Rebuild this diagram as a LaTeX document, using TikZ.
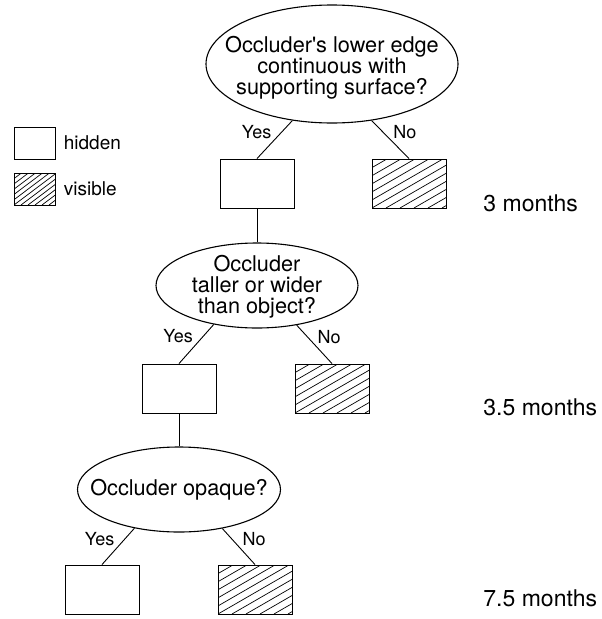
\documentclass[tikz,border=0pt]{standalone}
\usepackage{fontspec}
\setmainfont{TeX Gyre Heros}
\usetikzlibrary{positioning,shapes.geometric}

\begin{document}
\begin{tikzpicture}[%
    x=1pt,
    y=1pt,
    line width=0.9pt,
    node distance=35pt,
    qtext/.style={%
      align=center,
      inner sep=0pt,
      font=\fontsize{21.7}{21}\selectfont
    },
    question/.style 2 args={%
      ellipse,
      draw,
      line width=1.1pt,
      inner sep=0pt,
      minimum width=#1,
      minimum height=#2
    },
    answer/.style={%
      draw,
      inner sep=0pt,
      minimum width=74pt,
      minimum height=49pt
    },
    hatch/.style 2 args={%
      path picture={%
        \foreach \k in {-14,...,14}
          \draw[line width=0.7pt]
            ([xshift=\k*#1]path picture bounding box.south west) -- ++(#2:160pt);
      }
    },
    lbl/.style={inner sep=0pt, font=\fontsize{18}{20}\selectfont},
    keytext/.style={inner sep=0pt, font=\fontsize{19}{22}\selectfont},
    month/.style={inner sep=0pt, anchor=west, font=\fontsize{23}{26}\selectfont}
  ]
    \useasboundingbox (0,0) rectangle (602,-619);

    % legend
    \node[answer, minimum width=41pt, minimum height=32pt] (keyh) at (34.5,-143) {};
    \node[keytext] (keyhtext) [right=8pt of keyh] {hidden};
    \node[answer, hatch={7pt}{37}, minimum width=41pt, minimum height=32pt] (keyv) at (34.5,-189) {};
    \node[keytext] (keyvtext) [right=8pt of keyv] {visible};

    % questions and answers
    \node[question={252pt}{118pt},
          label={[qtext, yshift=-4pt]center:{Occluder\textquotesingle s lower edge\\continuous with\\supporting surface?}}]
          (q1) at (332,-64) {};
    \node[answer] (y1) [below=35pt of q1, xshift=-75pt] {};
    \node[answer, hatch={14pt}{30}] (n1) [below=35pt of q1, xshift=77pt] {};

    \node[question={202pt}{85pt},
          label={[qtext, yshift=-1pt]center:{Occluder\\taller or wider\\than object?}}]
          (q2) [below=34pt of y1] {};
    \node[answer] (y2) [below=35pt of q2, xshift=-78pt] {};
    \node[answer, hatch={14pt}{30}] (n2) [below=35pt of q2, xshift=75pt] {};

    \node[question={203pt}{85pt},
          label={[qtext]center:{Occluder opaque?}}]
          (q3) [below=33pt of y2] {};
    \node[answer] (y3) [below=32pt of q3, xshift=-77pt] {};
    \node[answer, hatch={14pt}{30}] (n3) [below=32pt of q3, xshift=76pt] {};

    \draw (q1.235) -- node[lbl, pos=0.3, left=10pt] {Yes} (y1.north);
    \draw (q1.305) -- node[lbl, pos=0.3, right=10pt] {No} (n1.north);
    \draw (y1) -- (q2);
    \draw (q2.222) -- node[lbl, pos=0.3, left=10pt] {Yes} (y2.north);
    \draw (q2.315) -- node[lbl, pos=0.3, right=10pt] {No} (n2.north);
    \draw (y2) -- (q3);
    \draw (q3.221) -- node[lbl, pos=0.3, left=10pt] {Yes} (y3.north);
    \draw (q3.318) -- node[lbl, pos=0.3, right=10pt] {No} (n3.north);

    % ages
    \node[month] (m1) at (483,-203) {3 months};
    \node[month] (m2) at (483,-407) {3.5 months};
    \node[month] (m3) at (483,-598) {7.5 months};
  \end{tikzpicture}
\end{document}
